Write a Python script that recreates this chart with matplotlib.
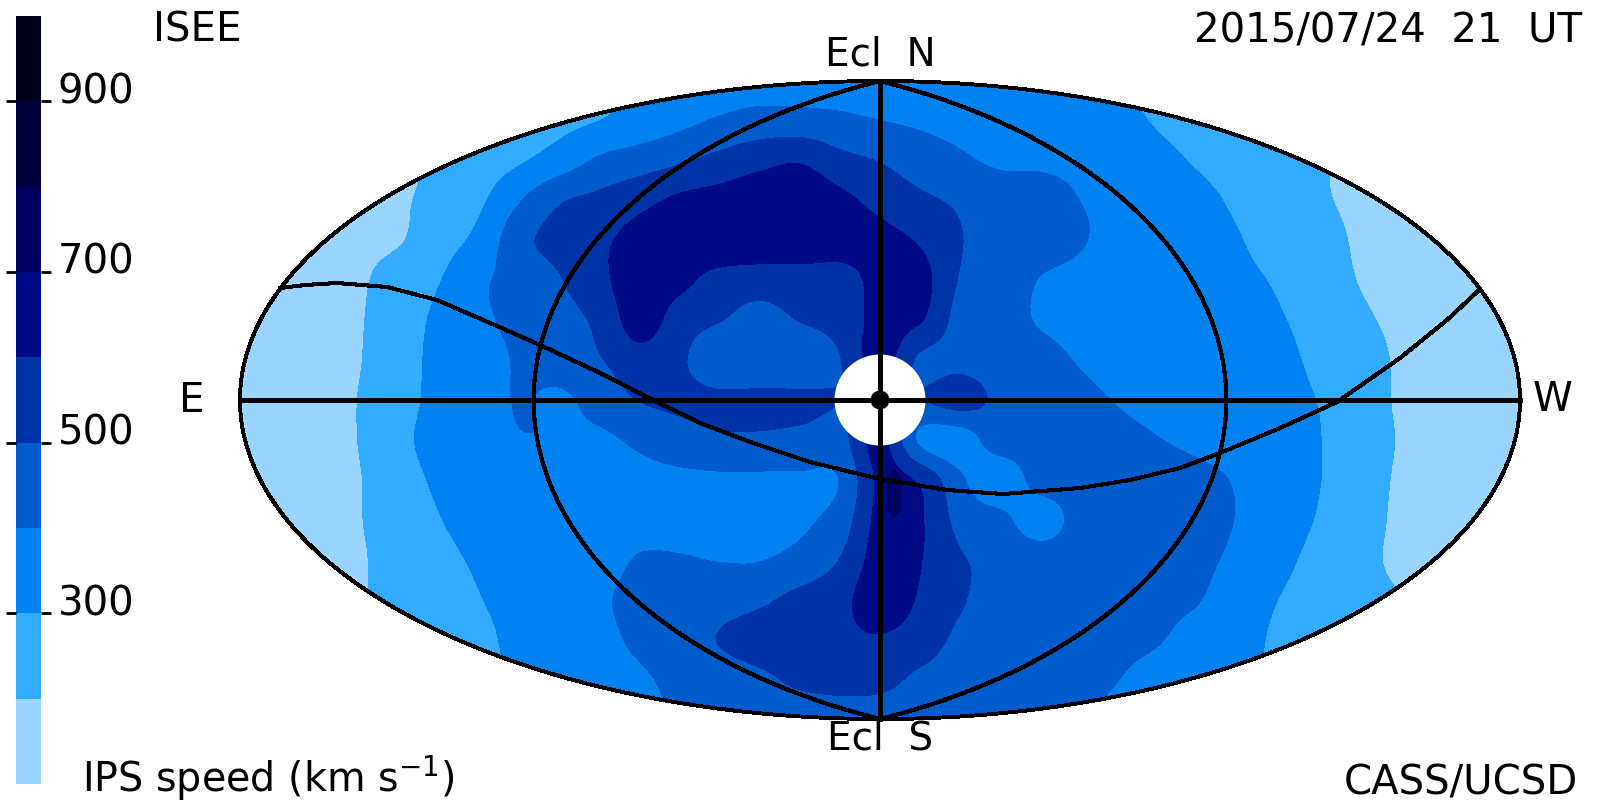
import numpy as np
import matplotlib
matplotlib.use('Agg')
import matplotlib.pyplot as plt
from matplotlib.colors import BoundaryNorm, ListedColormap
from matplotlib.patches import Circle, Ellipse

plt.rcParams['font.family'] = ['DejaVu Sans']
plt.rcParams['mathtext.default'] = 'regular'

# speed bands
levels = [100, 200, 300, 400, 500, 600, 700, 800, 900, 1000]
colors = ['#99D5FF', '#33ABFF', '#0082F2', '#005CCC', '#0033A8',
          '#000A85', '#000060', '#000040', '#00001E']
bar_ticks = [300, 500, 700, 900]

# IPS speed, one list per grid row, north to south
# grid step is 40 px, rows +320..-320, columns -640..640
row_01 = [120,130,140,150,165,185,210,235,260,285,310,335,350,355,353,350,345,340,335,330,325,320,305,280,255,230,205,185,165,155,145,140,130]
row_02 = [130,140,150,160,175,200,225,250,275,300,335,375,410,435,435,420,400,385,370,360,350,335,318,292,265,240,215,195,170,160,150,145,140]
row_03 = [140,150,160,170,180,215,250,290,345,415,450,485,530,570,590,530,495,450,415,385,385,375,345,320,290,260,230,205,180,170,155,150,150]
row_04 = [150,155,165,175,190,230,285,395,490,525,570,620,640,660,670,625,570,520,485,455,435,400,380,350,320,285,250,210,185,170,160,150,150]
row_05 = [150,160,170,180,195,260,330,470,535,580,640,670,690,680,670,650,630,590,505,470,440,405,385,355,330,303,265,230,190,175,160,155,150]
row_06 = [155,165,180,190,245,298,385,430,495,575,660,630,560,545,555,560,630,635,495,450,398,385,375,350,330,315,290,245,197,180,165,160,155]
row_07 = [160,170,180,195,260,320,385,420,465,525,650,550,505,470,505,540,630,610,465,430,395,380,365,350,340,325,305,270,215,185,170,165,160]
row_08 = [160,170,185,198,265,325,370,410,450,495,560,515,430,420,430,498,640,485,470,445,425,395,375,365,355,340,315,285,240,190,175,165,160]
row_09 = [160,170,185,203,270,325,365,405,385,440,505,520,520,525,520,500,470,495,540,480,450,420,395,377,357,338,318,297,250,190,175,165,160]
row_10 = [160,170,185,203,280,330,365,395,395,385,420,460,485,485,475,470,620,385,350,455,445,430,420,402,380,360,340,302,250,195,175,165,160]
row_11 = [165,175,190,198,265,315,340,355,365,370,375,380,385,385,385,405,620,585,420,330,440,440,445,440,420,390,340,302,245,190,175,165,160]
row_12 = [170,180,190,198,245,298,325,340,355,370,375,380,385,385,385,445,630,610,470,430,345,440,440,435,420,395,345,292,240,185,170,165,160]
row_13 = [170,175,185,195,230,280,310,330,350,375,405,405,398,398,430,505,645,605,510,480,460,450,440,430,415,380,325,270,225,185,170,165,160]
row_14 = [180,185,190,196,235,270,298,325,355,390,420,440,460,485,530,570,660,590,510,470,455,445,430,415,402,350,298,260,230,205,190,180,175]
row_15 = [190,195,205,215,235,265,285,320,350,380,415,450,505,540,560,575,590,550,480,460,445,430,415,403,370,330,285,255,235,225,215,205,200]
row_16 = [190,200,210,225,240,260,280,315,340,365,390,420,450,480,520,535,530,480,455,440,425,415,400,375,345,315,290,270,250,235,220,210,205]
row_17 = [200,210,220,235,250,270,290,315,340,370,385,405,420,430,440,450,450,440,430,420,415,405,385,360,340,320,300,280,260,245,230,220,210]

# narrow fast streak just south of the Sun
streak_x = [0, 14, 28]
streak_y = [-62, -76, -110, -124]
streak_speed = [[640, 640, 640], [640, 760, 640], [640, 760, 640], [640, 640, 640]]

# ecliptic line
ecliptic_x = [-600, -575, -543, -493, -443, -383, -340, -280, -227, -180, -127, -70, 0,
              67, 123, 200, 250, 300, 340, 400, 457, 520, 567, 597]
ecliptic_y = [112, 115, 117, 113, 100, 74, 55, 27, 0, -23, -43, -62, -79,
              -90, -94, -88, -80, -68, -53, -28, -2, 42, 80, 108]

speed = np.array([row_01, row_02, row_03, row_04, row_05, row_06, row_07, row_08, row_09,
                  row_10, row_11, row_12, row_13, row_14, row_15, row_16, row_17], dtype=float)

fig = plt.figure(figsize=(16, 8), dpi=100)
ax = fig.add_axes([0, 0, 1, 1])

A = 640
B = 319
outline = Ellipse((0, 0), 2 * A, 2 * B, fc='none', ec='none')
ax.add_patch(outline)

cmap = ListedColormap(colors)
norm = BoundaryNorm(levels, cmap.N)
im = ax.imshow(speed, extent=(-660, 660, -340, 340), origin='upper', aspect='auto', cmap=cmap, norm=norm,
               interpolation='catrom', interpolation_stage='data')
im.set_clip_path(outline)
ax.contourf(streak_x, streak_y[::-1], np.array(streak_speed)[::-1], levels=[700, 800],
            colors=[colors[6]], antialiased=False)

ax.set_xlim(-880, 720)
ax.set_ylim(-400, 400)
ax.axis('off')

ax.add_patch(Circle((0, 0), 45.5, fc='white', ec='none', zorder=3))

# Hammer grid lines
lat = np.radians(np.linspace(-90, 90, 181))
for lon in [-90, 90]:
    half = np.radians(lon) / 2
    d = np.sqrt(1 + np.cos(lat) * np.cos(half))
    ax.plot(A * np.cos(lat) * np.sin(half) / d, B * np.sin(lat) / d, color='k', lw=2.3,
            antialiased=False, zorder=4)
t = np.linspace(0, 2 * np.pi, 400)
ax.plot(A * np.cos(t), B * np.sin(t), color='k', lw=2.1, antialiased=False, zorder=4)
ax.plot([-A, A], [0, 0], color='k', lw=2.4, antialiased=False, zorder=4)
ax.plot([0, 0], [-B, B], color='k', lw=3.4, antialiased=False, zorder=4)
ax.plot(ecliptic_x, ecliptic_y, color='k', lw=2.2, antialiased=False, zorder=4)
ax.add_patch(Circle((0, 0), 9.5, fc='k', ec='none', zorder=5))

# labels
fs = 29
ax.text(-727, 369, 'ISEE', fontsize=fs, ha='left', va='center')
ax.text(702, 369, '2015/07/24  21  UT', fontsize=fs, ha='right', va='center')
ax.text(0, 345, 'Ecl  N', fontsize=28, ha='center', va='center')
ax.text(0, -339, 'Ecl  S', fontsize=28, ha='center', va='center')
ax.text(-701, -1, 'E', fontsize=fs, ha='left', va='center')
ax.text(673, 0, 'W', fontsize=fs, ha='center', va='center')
ax.text(698, -383, 'CASS/UCSD', fontsize=fs, ha='right', va='center')
ax.text(-798, -392, 'IPS speed (km s$^{-1}$)', fontsize=28.5, ha='left', va='baseline')

# colour bar
ax_bar = fig.add_axes([16 / 1600, 1 - 784 / 800, 25 / 1600, 768 / 800])
ax_bar.pcolormesh([0, 1], levels, np.arange(len(colors)).reshape(-1, 1), cmap=cmap, antialiased=False)
ax_bar.set_ylim(100, 1000)
ax_bar.set_xticks([])
ax_bar.set_yticks(bar_ticks)
ax_bar.set_yticklabels([])
ax_bar.tick_params(axis='y', left=True, right=True, length=7.4, width=2.0)
for side in ax_bar.spines.values():
    side.set_visible(False)
for v in bar_ticks:
    ax_bar.annotate(str(v), (1, v), xycoords=('axes fraction', 'data'), xytext=(12, 6.5),
                    textcoords='offset points', fontsize=fs, ha='left', va='center')

fig.savefig('out.png', dpi=100)
